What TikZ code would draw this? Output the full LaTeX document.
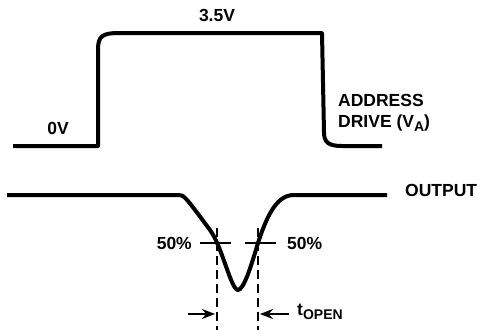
\documentclass[tikz,border=0pt]{standalone}
\usepackage{fontspec}
\setmainfont{Liberation Sans}
\usetikzlibrary{arrows.meta}

\newcommand{\lowsub}[1]{\raisebox{-0.4ex}{\fontsize{14}{14}\selectfont #1}}

\begin{document}
\begin{tikzpicture}[x=1pt, y=-1pt, font=\fontsize{17.5}{21}\selectfont\bfseries,
  wave/.style={line width=4pt, line join=round},
  tick/.style={line width=2pt},
  guide/.style={line width=2pt, dash pattern=on 9pt off 5pt},
  tip/.style={line width=2pt, -{Stealth[length=13pt, width=10pt]}}]
\useasboundingbox (0,0) rectangle (483,330);

% address drive
\draw[wave] (13,146) -- (98,146) -- (98,50) .. controls (98,36) and (102,33) .. (120,33)
  -- (322,33) -- (324,132) .. controls (324,142) and (328,146) .. (342,146) -- (382,146);

\node (hi) at (217,15) {3.5V};
\node (lo) at (58,128) {0V};
\node[anchor=west, align=left, inner sep=0pt] (va) at (338,113) {ADDRESS\\DRIVE (V\lowsub{A})};

% output
\draw[wave] (7,195) -- (178,195) .. controls (184,195) .. (210,230)
  .. controls (222,246) and (231,290) .. (238,290)
  .. controls (244,290) and (252,263) .. (258,243)
  .. controls (268,212) and (278,195) .. (294,195) -- (387,195);

\node[anchor=west, inner sep=0pt] (out) at (405,190) {OUTPUT};

% 50% levels
\coordinate (la) at (200,243);
\coordinate (lb) at (231,243);
\coordinate (ra) at (245,243);
\coordinate (rb) at (276,243);
\draw[tick] (la) -- (lb);
\draw[tick] (ra) -- (rb);
\node[anchor=east, inner sep=0pt] (pl) at (192,243) {50\%};
\node[anchor=west, inner sep=0pt] (pr) at (287,243) {50\%};

% t_open
\coordinate (dl) at (217,228);
\coordinate (dr) at (258,228);
\draw[guide] (dl) -- (217,330);
\draw[guide] (dr) -- (258,330);

\coordinate (al) at (188,314);
\coordinate (ar) at (289,314);
\draw[tip] (al) -- (215,314);
\draw[tip] (ar) -- (260,314);
\node[anchor=west, inner sep=0pt] (topen) at (297,312) {t\lowsub{OPEN}};

\end{tikzpicture}
\end{document}
